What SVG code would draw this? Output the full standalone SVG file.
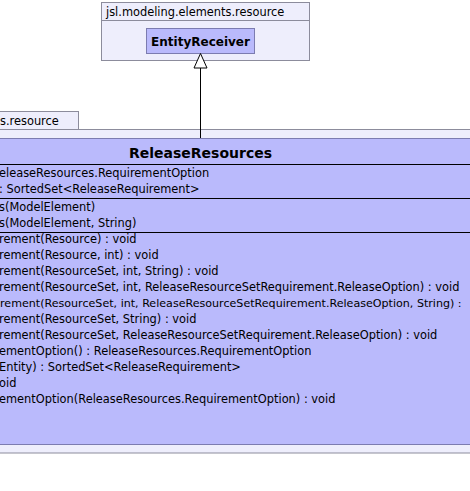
<svg xmlns="http://www.w3.org/2000/svg" width="470" height="491" viewBox="0 0 470 491">
<style>
.pkg{fill:#eeeefc;stroke:#8c8c9c;stroke-width:1}
.cls{fill:#babafc;stroke:#7c7cb0;stroke-width:1}
.sep{stroke:#000;stroke-width:1}
.t{font-family:"DejaVu Sans",sans-serif;font-size:11.4px;fill:#000}
.b{font-family:"DejaVu Sans",sans-serif;font-weight:bold;fill:#000}
</style>
<rect width="470" height="491" fill="#fff"/>
<g id="pkg-top">
<rect class="pkg" x="101.5" y="2.5" width="208" height="58"/>
<line x1="101.5" y1="20.5" x2="309.5" y2="20.5" stroke="#8c8c9c"/>
<text class="t" x="106" y="16" font-size="11.5">jsl.modeling.elements.resource</text>
</g>
<g id="EntityReceiver">
<rect class="cls" x="146.5" y="28.5" width="108" height="25"/>
<text class="b" x="200.5" y="46" font-size="12" text-anchor="middle">EntityReceiver</text>
</g>
<g id="pkg-left">
<rect class="pkg" x="-2" y="111.5" width="80.5" height="18"/>
<rect class="pkg" x="-2" y="129.5" width="480" height="323.5"/>
<text class="t" x="0" y="125" font-size="11.5">s.resource</text>
</g>
<g id="ReleaseResources">
<rect class="cls" x="-2" y="138.5" width="480" height="306"/>
<line class="sep" x1="-2" y1="164.5" x2="472" y2="164.5"/>
<line class="sep" x1="-2" y1="198.5" x2="472" y2="198.5"/>
<line class="sep" x1="-2" y1="232.5" x2="472" y2="232.5"/>
<text class="b" x="200.5" y="158" font-size="14" text-anchor="middle">ReleaseResources</text>
<text class="t" x="-1" y="177">eleaseResources.RequirementOption</text>
<text class="t" x="-1" y="193">: SortedSet&lt;ReleaseRequirement&gt;</text>
<text class="t" x="-1" y="211">s(ModelElement)</text>
<text class="t" x="-1" y="227">s(ModelElement, String)</text>
<text class="t" x="-1" y="243">rement(Resource) : void</text>
<text class="t" x="-1" y="259">rement(Resource, int) : void</text>
<text class="t" x="-1" y="275">rement(ResourceSet, int, String) : void</text>
<text class="t" x="-1" y="291">rement(ResourceSet, int, ReleaseResourceSetRequirement.ReleaseOption) : void</text>
<text class="t" x="0" y="307" style="font-size:11.1px">rement(ResourceSet, int, ReleaseResourceSetRequirement.ReleaseOption, String) :</text>
<text class="t" x="-1" y="323">rement(ResourceSet, String) : void</text>
<text class="t" x="-1" y="339">rement(ResourceSet, ReleaseResourceSetRequirement.ReleaseOption) : void</text>
<text class="t" x="-1" y="355">ementOption() : ReleaseResources.RequirementOption</text>
<text class="t" x="-1" y="371">Entity) : SortedSet&lt;ReleaseRequirement&gt;</text>
<text class="t" x="-1" y="387">oid</text>
<text class="t" x="-1" y="403">ementOption(ReleaseResources.RequirementOption) : void</text>
</g>
<g id="connectors">
<line x1="200.5" y1="68" x2="200.5" y2="138" stroke="#000"/>
<polygon points="200.5,53.5 194,68 207,68" fill="#fff" stroke="#000"/>
</g>
</svg>
